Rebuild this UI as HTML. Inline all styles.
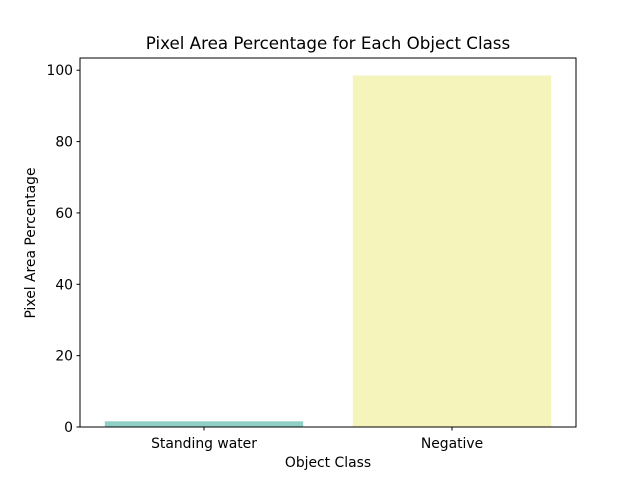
<!DOCTYPE html>
<html><head><meta charset="utf-8"><style>
body{margin:0;background:#fff;}
svg text{font-family:"DejaVu Sans","Liberation Sans",sans-serif;fill:#000;}
</style></head><body>
<svg width="640" height="480" id="c">
<text x="328" y="49" font-size="16.7" text-anchor="middle">Pixel Area Percentage for Each Object Class</text>
<text x="328" y="467" font-size="13.9" text-anchor="middle">Object Class</text>
<text transform="translate(35,243) rotate(-90)" font-size="13.9" text-anchor="middle">Pixel Area Percentage</text>
<g id="bars"></g><g id="ticks"></g>
<rect x="80" y="58" width="496" height="369" fill="none" stroke="#000" stroke-width="1"/>
</svg>
<script>
const categories=["Standing water","Negative"];
const values=[1.6,98.5];
const colors=["#90cfc4","#f5f5bb"];
const yTicks=[0,20,40,60,80,100];
const L=80,R=576,T=58,B=427;
const ymax=Math.max(...values)*1.05;
const x=i=>L+(i+0.5)/categories.length*(R-L);
const y=v=>B-v/ymax*(B-T);
const ns="http://www.w3.org/2000/svg";
const bars=document.getElementById('bars'),ticks=document.getElementById('ticks');
const bw=0.8*(R-L)/categories.length;
function mk(t,a,p){const e=document.createElementNS(ns,t);for(const k in a)e.setAttribute(k,a[k]);p.appendChild(e);return e;}
categories.forEach((c,i)=>{
 const r=mk('rect',{x:x(i)-bw/2,y:y(values[i]),width:bw,height:B-y(values[i]),fill:colors[i]},bars);
 
 
 mk('line',{x1:x(i),x2:x(i),y1:B,y2:B+3.5,stroke:'#000'},ticks);
 const t=mk('text',{x:x(i),y:B+21,'font-size':13.9,'text-anchor':'middle'},ticks);t.textContent=c;
 
 
});
yTicks.forEach(v=>{
 mk('line',{x1:L-3.5,x2:L,y1:y(v),y2:y(v),stroke:'#000'},ticks);
 const t=mk('text',{x:L-7,y:y(v)+5,'font-size':13.9,'text-anchor':'end'},ticks);t.textContent=v;
 
 
});
</script>
</body></html>
